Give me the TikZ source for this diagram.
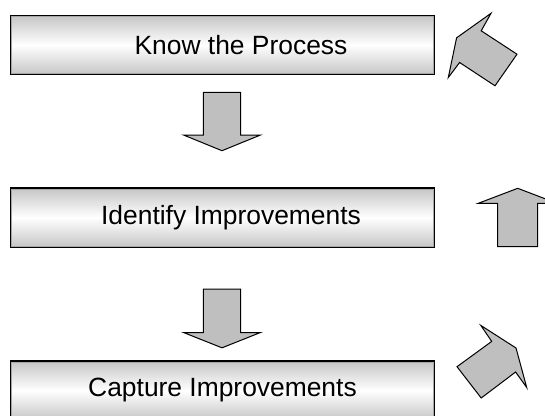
\documentclass[tikz,border=0pt]{standalone}
\usepackage{fontspec}
\setmainfont{Liberation Sans}
\begin{document}
\begin{tikzpicture}[x=1pt,y=-1pt,
  stepbox/.style={draw=black, line width=1.4pt, minimum width=424pt, minimum height=59pt,
    inner sep=0pt, top color=gray!45, bottom color=gray!45, middle color=white,
    font=\fontsize{26.4}{30}\selectfont},
  blockarrow/.style={draw=black, line width=1pt, fill=gray!50, line join=miter}]
\useasboundingbox (0,0) rectangle (545,415);
\clip (0,0) rectangle (545,415);
% boxes
\node[stepbox] (b1) at (222.5,45) {\hspace*{37pt}Know the Process};
\node[stepbox] (b2) at (222.5,217.5) {\hspace*{17pt}Identify Improvements};
\node[stepbox] (b3) at (222.5,390.5) {\raisebox{3pt}{Capture Improvements}};
\foreach \b in {b1,b2,b3}
  \draw[gray!70, line width=0.6pt] ([shift={(1.6pt,-1.6pt)}]\b.north west) rectangle ([shift={(-1.6pt,1.6pt)}]\b.south east);
% down arrows
\draw[blockarrow] (203.3,92.3) -- (240.7,92.3) -- (240.7,135) -- (260.5,135) -- (222,150.7) -- (183.5,135) -- (203.3,135) -- cycle;
\draw[blockarrow] (203.3,289) -- (240.7,289) -- (240.7,332.5) -- (260.5,332.5) -- (222,347.8) -- (183.5,332.5) -- (203.3,332.5) -- cycle;
% up arrow (right, middle)
\draw[blockarrow] (517.7,188.3) -- (557,203.3) -- (537.7,203.3) -- (537.7,246.7) -- (497.7,246.7) -- (497.7,203.3) -- (478.3,203.3) -- cycle;
% top-right arrow
\draw[blockarrow] (448.3,77.5) -- (456.6,37.8) -- (491,13.3) -- (481.2,30.8) -- (517,54.2) -- (495,85.8) -- (459.6,62.5) -- cycle;
% bottom-right arrow
\draw[blockarrow] (480.8,325.4) -- (516,348) -- (526.7,387.5) -- (515.6,372) -- (481.2,398) -- (457,366.7) -- (491.7,341.4) -- cycle;
\end{tikzpicture}
\end{document}
